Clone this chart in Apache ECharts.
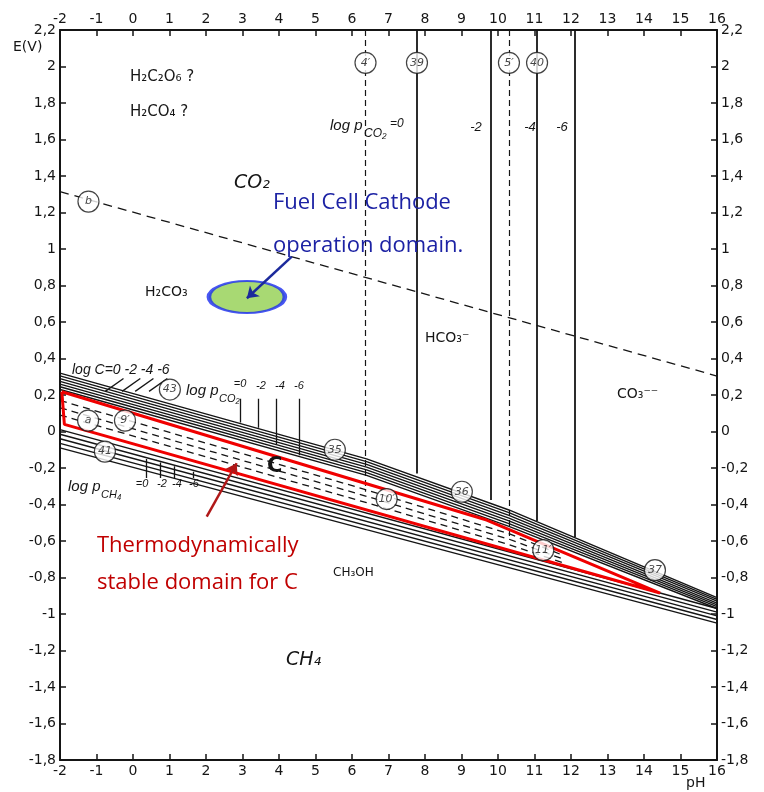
<!DOCTYPE html>
<html><head><meta charset="utf-8">
<script src="https://cdn.jsdelivr.net/npm/echarts@6/dist/echarts.min.js"></script>
<style>html,body{margin:0;padding:0;background:#fff}#c{width:764px;height:792px}</style>
</head><body><div id="c"></div>
<script>
// ---- data (pH, E in V) ----
const bandPH = [-2, 6.4, 10.3, 16];
const upperBandE = [
  [0.32, -0.15, -0.43, -0.91],
  [0.305, -0.165, -0.445, -0.92],
  [0.29, -0.18, -0.46, -0.93],
  [0.275, -0.195, -0.475, -0.94],
  [0.26, -0.21, -0.49, -0.95],
  [0.245, -0.225, -0.505, -0.96],
  [0.23, -0.24, -0.52, -0.97]
];
const lowerPH = [-2, 16];
const lowerBandE = [[0.01, -0.97], [-0.015, -0.99], [-0.04, -1.01], [-0.065, -1.03], [-0.09, -1.05]];
const dashedPH = [-2, 6.4, 10.3, 11.8];
const dashedE = [[0.17, -0.32, -0.56, -0.68], [0.13, -0.355, -0.59, -0.70], [0.09, -0.39, -0.62, -0.72]];
const redPH = [-1.95, -1.88, 14.44, 9.69, -1.95];
const redE = [0.218, 0.039, -0.885, -0.485, 0.218];
const lineBPH = [-2, 16];
const lineBE = [1.314, 0.304];
const vertPH = [6.37, 7.78, 9.8, 10.3, 11.07, 12.1];
const vertEnd = [-0.33, -0.23, -0.375, -0.59, -0.49, -0.58];
const vertDashed = [true, false, false, true, false, false];
const co2TickPH = [2.93, 3.42, 3.92, 4.55];
const co2TickTop = [0.18, 0.18, 0.18, 0.18];
const co2TickEnd = [0.05, 0.02, -0.07, -0.13];
const ch4TickPH = [0.35, 0.74, 1.12, 1.65];
const ch4TickTop = [-0.15, -0.17, -0.19, -0.22];
const ch4TickEnd = [-0.255, -0.255, -0.255, -0.255];
const logCTickPH = [-0.41, 0.05, 0.41, 0.79];
const circleLabels = ['b', '4′', '39', '5′', '40', '43', 'a', '9′', '41', '35', '10′', '36', '11′', '37'];
const circlePH = [-1.22, 6.37, 7.78, 10.3, 11.07, 1.01, -1.23, -0.22, -0.77, 5.53, 6.95, 9.01, 11.24, 14.3];
const circleE = [1.26, 2.02, 2.02, 2.02, 2.02, 0.23, 0.06, 0.06, -0.11, -0.10, -0.37, -0.33, -0.65, -0.76];
const ellipsePH = [3.12], ellipseE = [0.737];
const blueArrow = [[4.35, 0.958], [3.12, 0.73]];
const redArrow = [[2.02, -0.467], [2.84, -0.174]];

const BLK = '#151515';
const series = [];
const pts = (xs, ys) => xs.map((x, i) => [x, ys[i]]);
const lineSeries = (data, style) => ({
  type: 'line', data, showSymbol: false, symbol: 'none', silent: true, z: 3,
  lineStyle: Object.assign({ color: BLK, width: 1.4 }, style || {})
});
upperBandE.forEach(e => series.push(lineSeries(pts(bandPH, e))));
lowerBandE.forEach(e => series.push(lineSeries(pts(lowerPH, e))));
dashedE.forEach(e => series.push(lineSeries(pts(dashedPH, e), { type: [7, 5], width: 1.3 })));
series.push(lineSeries(pts(lineBPH, lineBE), { type: [9, 6], width: 1.3 }));
const segs = [];
vertPH.forEach((x, i) => segs.push({ coords: [[x, 2.2], [x, vertEnd[i]]], lineStyle: { type: vertDashed[i] ? [6, 4] : 'solid', width: vertDashed[i] ? 1.2 : 1.8 } }));
co2TickPH.forEach((x, i) => segs.push({ coords: [[x, co2TickTop[i]], [x, co2TickEnd[i]]] }));
ch4TickPH.forEach((x, i) => segs.push({ coords: [[x, ch4TickTop[i]], [x, ch4TickEnd[i]]] }));
logCTickPH.forEach(x => segs.push({ coords: [[x + 0.15, 0.29], [x - 0.35, 0.22]] }));
series.push({
  type: 'lines', coordinateSystem: 'cartesian2d', silent: true, z: 3,
  lineStyle: { color: BLK, width: 1.3, opacity: 1 }, data: segs
});
series.push(lineSeries(pts(redPH, redE), { color: '#f00000', width: 3 }));
series.push({
  type: 'scatter', z: 6, silent: true, symbol: 'circle', symbolSize: 21,
  data: circlePH.map((x, i) => ({ value: [x, circleE[i]], name: circleLabels[i] })),
  itemStyle: { color: '#fff', borderColor: BLK, borderWidth: 1.2 },
  label: { show: true, position: 'inside', formatter: p => p.name, color: BLK, fontSize: 11, fontStyle: 'italic', fontFamily: 'DejaVu Sans' }
});
series.push({
  type: 'scatter', z: 6, silent: true, symbol: 'circle', symbolSize: [76, 32],
  data: pts(ellipsePH, ellipseE),
  itemStyle: { color: '#92d050', borderColor: '#1a2cf0', borderWidth: 3 }
});
series.push({
  type: 'lines', coordinateSystem: 'cartesian2d', silent: true, z: 7,
  symbol: ['none', 'arrow'], symbolSize: 11,
  data: [
    { coords: blueArrow, lineStyle: { color: '#1c2a9c', width: 2.5, opacity: 1 } },
    { coords: redArrow, lineStyle: { color: '#b01818', width: 2.5, opacity: 1 } }
  ]
});

const fmt = v => String(Math.round(v * 10) / 10).replace('.', ',');
const axLabel = { color: BLK, fontSize: 14, fontFamily: 'DejaVu Sans', formatter: fmt, margin: 4, showMinLabel: true, showMaxLabel: true };
const axLine = { onZero: false, lineStyle: { color: BLK, width: 2 } };
const axTick = { inside: true, length: 6, lineStyle: { color: BLK, width: 1.5 } };
const xa = pos => ({ type: 'value', position: pos, min: -2, max: 16, interval: 1, axisLine: axLine, axisTick: axTick, splitLine: { show: false }, axisLabel: axLabel });
const ya = pos => ({ type: 'value', position: pos, min: -1.8, max: 2.2, interval: 0.2, axisLine: axLine, axisTick: axTick, splitLine: { show: false }, axisLabel: axLabel });

const F = 'DejaVu Sans';
const L = '"Liberation Sans"';
const txt = (x, y, text, font, extra) => ({ type: 'text', x, y, z: 10, style: Object.assign({ text, fill: BLK, font: font + ' ' + F, textVerticalAlign: 'middle', verticalAlign: 'middle' }, extra || {}) });
const lt = (x, y, text, font, extra) => txt(x, y, text, '', Object.assign({ font: font + ' ' + L }, extra || {}));
const ctr = { textAlign: 'center', align: 'center' };
const graphics = [
  txt(13, 47, 'E(V)', '14px'),
  txt(130, 77, 'H₂C₂O₆ ?', '15px'),
  txt(130, 112, 'H₂CO₄ ?', '15px'),
  // log pCO2 = 0 -2 -4 -6 (top)
  lt(330, 126, 'log p', 'italic 15px'),
  lt(364, 134, 'CO₂', 'italic 12px'),
  lt(390, 124, '=0', 'italic 12px'),
  lt(476, 127, '-2', 'italic 13px', ctr),
  lt(530, 127, '-4', 'italic 13px', ctr),
  lt(562, 127, '-6', 'italic 13px', ctr),
  txt(234, 183, 'CO₂', 'italic 19px'),
  txt(145, 292, 'H₂CO₃', '14px'),
  txt(425, 338, 'HCO₃⁻', '14px'),
  txt(617, 394, 'CO₃⁻⁻', '14px'),
  lt(72, 370, 'log C=0 -2 -4 -6', 'italic 14px'),
  // log pCO2 small
  lt(186, 391, 'log p', 'italic 15px'),
  lt(219, 399, 'CO₂', 'italic 11px'),
  lt(240, 384, '=0', 'italic 11px', ctr),
  lt(261, 386, '-2', 'italic 11px', ctr),
  lt(280, 386, '-4', 'italic 11px', ctr),
  lt(299, 386, '-6', 'italic 11px', ctr),
  txt(267, 467, 'C', 'bold 21px'),
  // log pCH4
  lt(68, 487, 'log p', 'italic 15px'),
  lt(101, 495, 'CH₄', 'italic 11px'),
  lt(142, 484, '=0', 'italic 11px', ctr),
  lt(162, 484, '-2', 'italic 11px', ctr),
  lt(177, 484, '-4', 'italic 11px', ctr),
  lt(194, 484, '-6', 'italic 11px', ctr),
  txt(333, 573, 'CH₃OH', '12px'),
  txt(286, 660, 'CH₄', 'italic 19px'),
  txt(686, 783, 'pH', '14px'),
  txt(273, 203, 'Fuel Cell Cathode', '22px', { font: '22px "Open Sans"', fill: '#1c22a4' }),
  txt(273, 246, 'operation domain.', '22px', { font: '22px "Open Sans"', fill: '#1c22a4' }),
  txt(97, 546, 'Thermodynamically', '22px', { font: '22px "Open Sans"', fill: '#c00000' }),
  txt(97, 583, 'stable domain for C', '22px', { font: '22px "Open Sans"', fill: '#c00000' })
];

const chart = echarts.init(document.getElementById('c'));
chart.setOption({
  animation: false,
  backgroundColor: '#fff',
  grid: { left: 60, right: 47, top: 30, bottom: 32 },
  xAxis: [xa('bottom'), xa('top')],
  yAxis: [ya('left'), ya('right')],
  series,
  graphic: graphics
});
</script></body></html>
